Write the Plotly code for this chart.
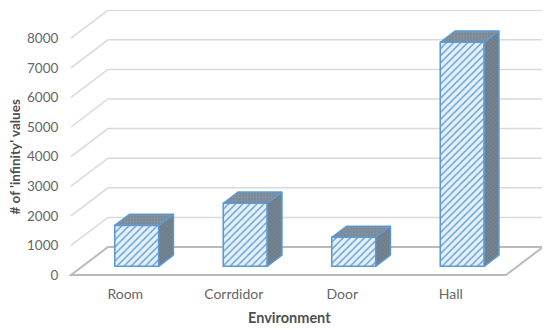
import plotly.graph_objects as go

categories = ["Room", "Corrdidor", "Door", "Hall"]
values = [1385, 2130, 980, 7570]
y_ticks = [0, 1000, 2000, 3000, 4000, 5000, 6000, 7000, 8000]

# Oblique projection, expressed in axis units
X_MIN, X_MAX = -0.5, 3.85
Y_MAX = 8953
FLOOR_DX, FLOOR_DY = 0.341, 946
BAR_FRONT = 0.31
BAR_DEPTH = 0.40
BAR_W = 0.405
BLUE = "#5b9bd5"
# small axis padding so the floor outline is not clipped by the plot area
PAD_X, PAD_Y = 2 / 108.5, 3 * 1000 / 29.6


def proj(x, v, d):
    return x + FLOOR_DX * d, v + FLOOR_DY * d


fig = go.Figure()

shapes = []
for t in y_ticks[1:]:
    x0, y0 = proj(X_MIN, t, 0)
    x1, y1 = proj(X_MIN, t, 1)
    shapes.append(dict(type="path", layer="below", xref="x", yref="y",
                       path=f"M{x0},{y0} L{x1},{y1} L{X_MAX},{y1}",
                       line=dict(color="#d9d9d9", width=1.5)))
# floor
fx0, fy0 = proj(X_MIN, 0, 0)
fx1, fy1 = proj(X_MIN, 0, 1)
rx = X_MAX - FLOOR_DX
shapes.append(dict(type="path", layer="below", xref="x", yref="y",
                   path=f"M{fx0},{fy0} L{fx1},{fy1} L{X_MAX},{fy1} L{rx},{fy0} Z",
                   line=dict(color="#bababa", width=2)))

base = FLOOR_DY * BAR_FRONT
bar_x = [i + FLOOR_DX * BAR_FRONT for i in range(len(categories))]

fig.add_trace(go.Bar(
    x=bar_x, y=values, base=[base] * len(values), width=BAR_W,
    marker=dict(color="#e8f1fa", line=dict(color=BLUE, width=1.6),
                pattern=dict(shape="/", size=5, solidity=0.3,
                             fgcolor="#6aa5da", bgcolor="#e8f1fa", fillmode="replace")),
    hoverinfo="skip", showlegend=False))

for cx, v in zip(bar_x, values):
    left, right = cx - BAR_W / 2, cx + BAR_W / 2
    top = base + v
    dx, dy = FLOOR_DX * BAR_DEPTH, FLOOR_DY * BAR_DEPTH
    # side face
    fig.add_trace(go.Scatter(
        x=[right, right + dx, right + dx, right, right],
        y=[base, base + dy, top + dy, top, base],
        mode="lines", fill="toself", fillcolor="#6f7d8b",
        fillpattern=dict(shape="x", size=3, solidity=0.2, fgcolor="#8f9ba7", bgcolor="#707d8a"),
        line=dict(color=BLUE, width=1.4),
        hoverinfo="skip", showlegend=False))
    # top face
    fig.add_trace(go.Scatter(
        x=[left, left + dx, right + dx, right, left],
        y=[top, top + dy, top + dy, top, top],
        mode="lines", fill="toself", fillcolor="#7b8a99",
        fillpattern=dict(shape=".", size=3, solidity=0.3, fgcolor="#93a0ac", bgcolor="#7b8a99"),
        line=dict(color=BLUE, width=1.4),
        hoverinfo="skip", showlegend=False))

# The page adds an 8 px body margin on the top and left, so the figure is 8 px smaller
fig.update_layout(
    width=542, height=322,
    margin=dict(l=61, r=5, t=2, b=52, autoexpand=False),
    paper_bgcolor="white", plot_bgcolor="white",
    font=dict(family="Lato", color="#666666", size=13.5),
    shapes=shapes,
    xaxis=dict(range=[X_MIN - PAD_X, X_MAX + PAD_X], tickmode="array",
               tickvals=list(range(len(categories))), ticktext=categories,
               showgrid=False, zeroline=False, showline=False,
               ticks="outside", ticklen=3, tickcolor="rgba(0,0,0,0)",
               tickfont=dict(size=14, color="#666666")),
    yaxis=dict(range=[-PAD_Y, Y_MAX], tickmode="array", tickvals=y_ticks,
               showgrid=False, zeroline=False, showline=False,
               ticks="outside", ticklen=7, tickcolor="rgba(0,0,0,0)",
               tickfont=dict(size=13.5, color="#666666")),
    annotations=[
        dict(text="<b>Environment</b>", xref="paper", yref="paper",
             x=(289 - 69) / 476, y=-(316 - 277) / 268, xanchor="center", yanchor="middle",
             showarrow=False, font=dict(size=14.5, color="#505050")),
        dict(text="<b># of 'infinity' values</b>", xref="paper", yref="paper",
             x=-(69 - 14.5) / 476, y=(277 - 156) / 268, xanchor="center", yanchor="middle",
             textangle=-90, showarrow=False, font=dict(size=13.5, color="#505050")),
    ],
)

fig.write_html("out.html")
